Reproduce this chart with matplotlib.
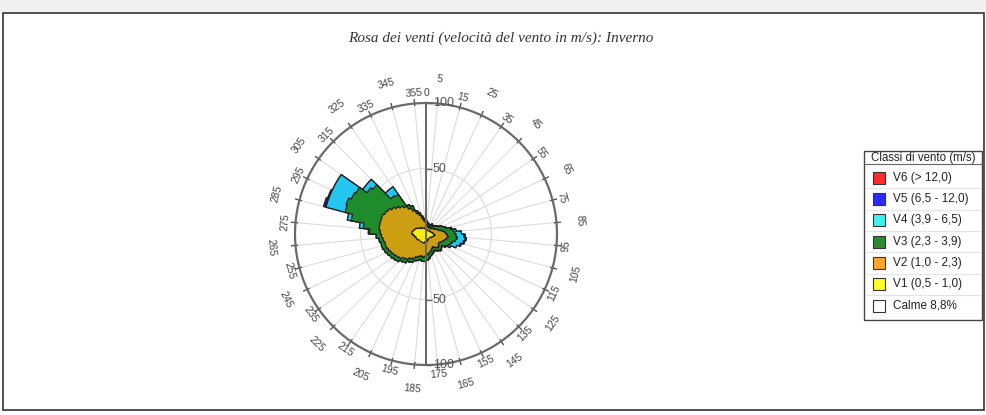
import numpy as np
import matplotlib
matplotlib.use("Agg")
import matplotlib.pyplot as plt
from matplotlib.patches import Rectangle

plt.rcParams['font.family'] = ['Liberation Sans', 'DejaVu Sans']

# 5 degree direction bins, starting at north and going clockwise
bin_width = 5
bin_start = np.arange(0, 360, bin_width)

# frequency per class and direction bin
v1 = [4, 4, 3, 3, 3, 3, 3, 3, 3, 3, 3, 4, 4, 4, 4, 5, 5, 6,
      6, 7, 6, 6, 5, 5, 5, 4, 4, 4, 4, 4, 4, 4, 5, 5, 6, 6,
      6, 6, 7, 7, 7, 7, 7, 7, 7, 7, 7, 8, 8, 8, 8, 9, 9, 10,
      11, 11, 10, 10, 9, 9, 8, 7, 7, 6, 6, 5, 5, 5, 5, 4, 4, 4]
v2 = [4, 3, 3, 3, 2, 3, 3, 2, 3, 3, 4, 3, 4, 5, 6, 7, 9, 9,
      10, 10, 10, 9, 9, 8, 7, 8, 9, 10, 9, 8, 7, 8, 8, 9, 9, 10,
      11, 12, 10, 11, 12, 14, 15, 17, 18, 20, 21, 21, 22, 23, 24, 23, 24, 24,
      24, 25, 26, 26, 27, 26, 26, 25, 23, 22, 20, 18, 15, 12, 10, 8, 6, 5]
v3 = [2, 2, 2, 2, 2, 2, 3, 2, 2, 3, 3, 4, 5, 5, 6, 7, 7, 7,
      7, 7, 7, 6, 6, 6, 5, 3, 3, 3, 3, 3, 3, 3, 3, 3, 4, 4,
      4, 3, 3, 3, 3, 3, 3, 3, 3, 3, 3, 3, 3, 3, 3, 3, 3, 4,
      8, 12, 22, 28, 29, 28, 28, 23, 23, 10, 11, 3, 4, 2, 2, 2, 2, 2]
v4 = [0, 0, 0, 0, 0, 0, 0, 0, 0, 0, 0, 0, 0, 0, 0, 1, 2, 5,
      6, 6, 6, 6, 5, 2, 1, 0, 0, 0, 0, 0, 0, 0, 0, 0, 0, 0,
      0, 0, 0, 0, 0, 0, 0, 0, 0, 0, 0, 0, 0, 0, 0, 0, 0, 0,
      1, 3, 3, 15, 14, 16, 17, 4, 6, 6, 7, 0, 0, 0, 0, 0, 0, 0]
v5 = [0, 0, 0, 0, 0, 0, 0, 0, 0, 0, 0, 0, 0, 0, 0, 0, 0, 0,
      1, 1, 1, 1, 0, 0, 0, 0, 0, 0, 0, 0, 0, 0, 0, 0, 0, 0,
      0, 0, 0, 0, 0, 0, 0, 0, 0, 0, 0, 0, 0, 0, 0, 0, 0, 0,
      0, 0, 0, 2, 1, 0, 0, 0, 0, 0, 0, 0, 0, 0, 0, 0, 0, 0]
v6 = [0] * 72

classes = ['V6 (> 12,0)', 'V5 (6,5 - 12,0)', 'V4 (3,9 - 6,5)',
           'V3 (2,3 - 3,9)', 'V2 (1,0 - 2,3)', 'V1 (0,5 - 1,0)', 'Calme 8,8%']
legend_colors = ['#ff2b2b', '#2b2bff', '#3ff0f0', '#2e8b2e', '#ffa72c', '#ffff24', 'white']
rose_colors = ['#f4ec12', '#cc9f12', '#1e8c2a', '#22c6ee', '#1a1a9a', '#e02020']  # V1..V6

dir_labels = np.arange(5, 360, 10)
r_ticks = [50, 100]
title = 'Rosa dei venti (velocità del vento in m/s): Inverno'

fig = plt.figure(figsize=(9.87, 4.15), dpi=100)

# page-like frame
fig.add_artist(Rectangle((0, 403 / 415), 1, 12 / 415, transform=fig.transFigure,
                         color='#f0f0f0', lw=0, zorder=0))
fig.add_artist(Rectangle((3.5 / 987, 5 / 415), 981 / 987, 397 / 415, transform=fig.transFigure,
                         fill=False, ec='#333333', lw=1.2, zorder=0))

fig.text(500.5 / 987, 1 - 38 / 415, title, ha='center', va='center',
         family='Liberation Serif', style='italic', fontsize=11, color='#333333')

# rose axes, centre at (426, 234) px with radius 131 px
ax = fig.add_axes([295 / 987, 50 / 415, 262 / 987, 262 / 415], projection='polar')
ax.set_theta_zero_location('N')
ax.set_theta_direction(-1)
ax.set_ylim(0, 100)
ax.set_xticks([])
ax.set_yticks([])
ax.grid(False)
ax.spines['polar'].set_visible(False)
ax.patch.set_visible(False)

full = np.linspace(0, 2 * np.pi, 400)
for d in dir_labels:
    ax.plot([np.radians(d)] * 2, [0, 100], color='#dcdcdc', lw=0.8, zorder=1)
    ax.plot([np.radians(d)] * 2, [98.5, 103], color='#555555', lw=1, zorder=6, clip_on=False)
ax.plot(full, np.full_like(full, 50), color='#dcdcdc', lw=0.8, zorder=1)
ax.plot(full, np.full_like(full, 100), color='#6a6a6a', lw=1.6, zorder=6, clip_on=False)


def envelope(values):
    th, rr = [], []
    for s, v in zip(bin_start, values):
        th.extend(np.radians(np.linspace(s, s + bin_width, 6)))
        rr.extend([v] * 6)
    return th, rr


layers = np.array([v1, v2, v3, v4, v5, v6], dtype=float)
cum = np.cumsum(layers, axis=0)
for k in range(len(layers) - 1, -1, -1):
    if layers[k].sum() == 0:
        continue
    th, rr = envelope(cum[k])
    ax.fill(th, rr, facecolor=rose_colors[k], edgecolor='#1e1e1e', lw=0.9, zorder=3 + (6 - k))

# vertical axis with radial scale
ax.plot([0, 0], [0, 100], color='#666666', lw=1.4, zorder=12, clip_on=False)
ax.plot([np.pi, np.pi], [0, 100], color='#666666', lw=1.4, zorder=12, clip_on=False)
for t in (0, np.pi):
    for r in r_ticks:
        ax.plot([t], [r], marker=1, markersize=4, color='#666666', mew=1, zorder=12, clip_on=False)
        ax.annotate(str(r), xy=(t, r), xytext=(5, 0), textcoords='offset points',
                    ha='left', va='center', fontsize=9, color='#555555', zorder=13)

# direction labels, alternating two radii
for i, d in enumerate(dir_labels):
    rad = 118.3 if i % 2 == 0 else 107.6
    rot = -d if (d < 90 or d > 270) else 180 - d
    ax.text(np.radians(d), rad, str(d), rotation=rot, rotation_mode='anchor',
            ha='center', va='center', fontsize=7.5, color='#444444', clip_on=False)
ax.text(0, 107.6, '0', ha='center', va='center', fontsize=7.5, color='#444444', clip_on=False)

# legend box in pixel coordinates
leg = fig.add_axes([864 / 987, 95 / 415, 118 / 987, 169 / 415])
leg.set_xlim(864, 982)
leg.set_ylim(320, 151)
leg.axis('off')
leg.add_patch(Rectangle((864, 151), 118, 169, fill=False, ec='#444444', lw=1, clip_on=False))
leg.plot([864, 982], [164.5, 164.5], color='#666666', lw=0.8, clip_on=False)
leg.text(923, 158.3, 'Classi di vento (m/s)', ha='center', va='center', fontsize=8.3, color='#222222')
for i, (name, col) in enumerate(zip(classes, legend_colors)):
    y = 177.7 + 21.35 * i
    leg.add_patch(Rectangle((873, y - 6), 12, 12, fc=col, ec='#333333', lw=0.8, clip_on=False))
    leg.text(893, y, name, ha='left', va='center', fontsize=8.5, color='#222222')
    if i < len(classes) - 1:
        leg.plot([866, 980], [y + 10.7, y + 10.7], color='#e4e4e4', lw=0.8, clip_on=False)

fig.savefig('out.png', dpi=100)
